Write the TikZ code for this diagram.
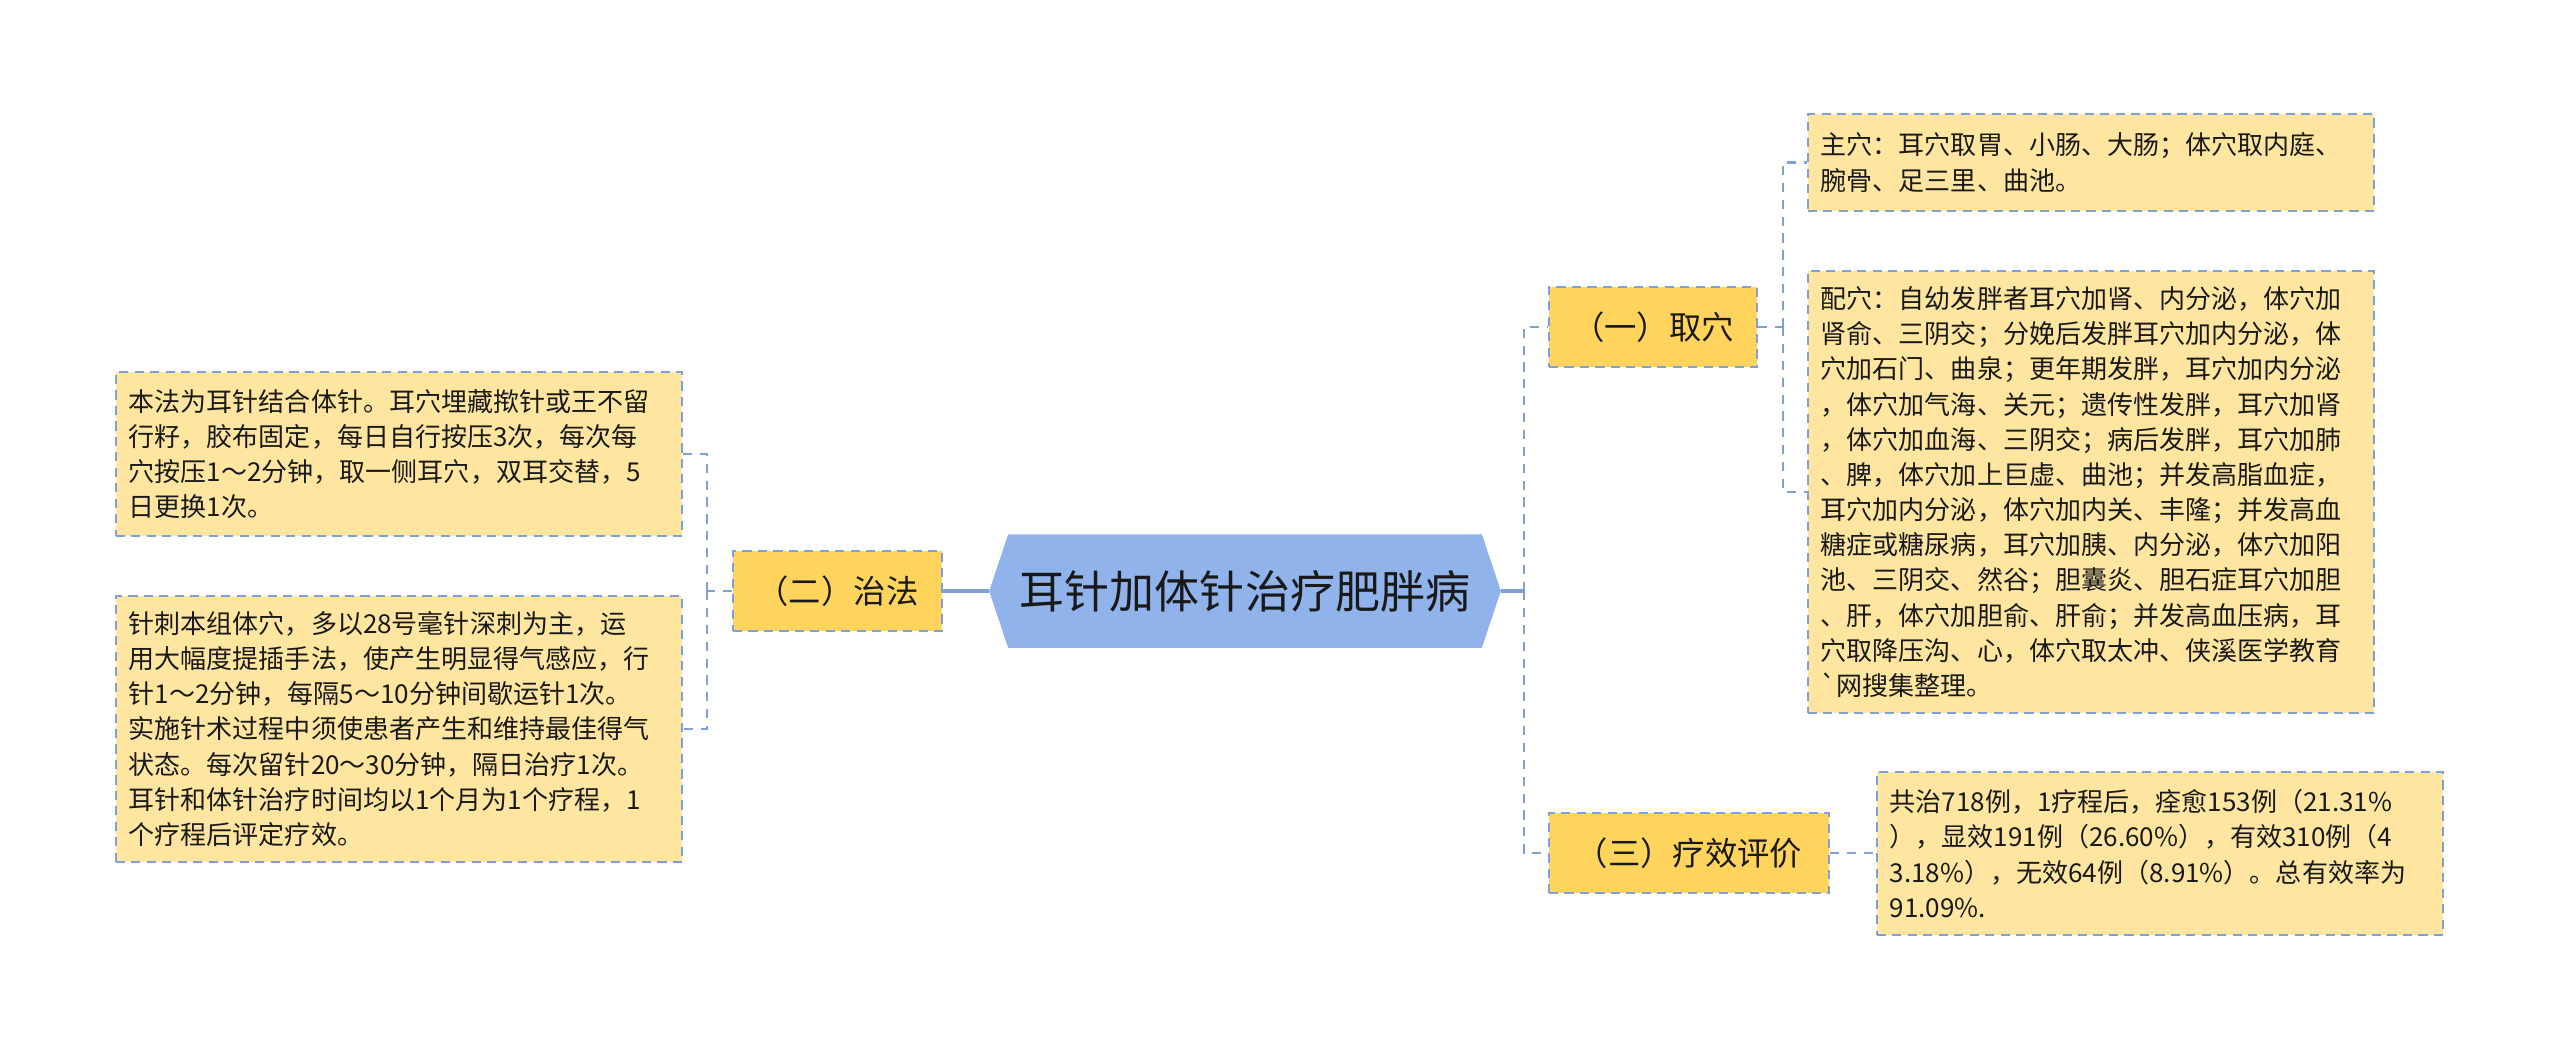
\documentclass[tikz,border=0pt]{standalone}
\usepackage{fontspec}
\setmainfont{Noto Sans CJK SC}
\usepackage{tikz}
\usetikzlibrary{calc,positioning,backgrounds}
\definecolor{cRoot}{RGB}{143,179,234}
\definecolor{cTopic}{RGB}{255,212,92}
\definecolor{cLeaf}{RGB}{255,230,160}
\definecolor{cLine}{RGB}{127,160,212}
\definecolor{cText}{RGB}{25,25,25}

\tikzset{
  topic/.style={draw=cLine,line width=0.7pt,dash pattern=on 2.6pt off 1.8pt,
    fill=cTopic,minimum height=0.8cm,inner sep=0pt,text=cText,
    font=\fontsize{9.2pt}{11pt}\selectfont},
  leaf/.style={draw=cLine,line width=0.7pt,dash pattern=on 2.6pt off 1.8pt,
    fill=cLeaf,text width=5.4cm,inner xsep=0.13cm,inner ysep=0pt,align=left,
    text=cText,font=\fontsize{7.4pt}{10pt}\selectfont},
  trunk/.style={cLine,line width=0.9pt},
  branch/.style={cLine,line width=0.8pt,dash pattern=on 2.6pt off 2.2pt},
}

\begin{document}
\begin{tikzpicture}[x=0.01cm,y=-0.01cm]
  \useasboundingbox (0,0) rectangle (2560,1053);
  \node[minimum width=5.1cm,minimum height=1.12cm,text=cText,
    font=\fontsize{12.8pt}{14pt}\selectfont] (root) at (1245,591) {耳针加体针治疗肥胖病};
  \begin{scope}[on background layer]
    \fill[cRoot] (root.west) -- ($(root.north west)+(19,0)$) -- ($(root.north east)+(-19,0)$)
      -- (root.east) -- ($(root.south east)+(-19,0)$) -- ($(root.south west)+(19,0)$) -- cycle;
  \end{scope}

  \node[topic,minimum width=2.09cm] (zhifa) at (837.5,591) {（二）治法};
  \node[topic,minimum width=2.08cm] (quxue) at (1653,327) {（一）取穴};
  \node[topic,minimum width=2.80cm] (liaoxiao) at (1689,853) {（三）疗效评价};

  \node[leaf,minimum height=1.64cm] (fa1) at (399,454) {本法为耳针结合体针。耳穴埋藏揿针或王不留\\
    行籽，胶布固定，每日自行按压3次，每次每\\
    穴按压1～2分钟，取一侧耳穴，双耳交替，5\\
    日更换1次。};
  \node[leaf,minimum height=2.66cm] (fa2) at (399,729) {针刺本组体穴，多以28号毫针深刺为主，运\\
    用大幅度提插手法，使产生明显得气感应，行\\
    针1～2分钟，每隔5～10分钟间歇运针1次。\\
    实施针术过程中须使患者产生和维持最佳得气\\
    状态。每次留针20～30分钟，隔日治疗1次。\\
    耳针和体针治疗时间均以1个月为1个疗程，1\\
    个疗程后评定疗效。};
  \node[leaf,minimum height=0.97cm] (zhuxue) at (2091,162.5) {主穴：耳穴取胃、小肠、大肠；体穴取内庭、\\
    腕骨、足三里、曲池。};
  \node[leaf,minimum height=4.42cm] (peixue) at (2091,492) {配穴：自幼发胖者耳穴加肾、内分泌，体穴加\\
    肾俞、三阴交；分娩后发胖耳穴加内分泌，体\\
    穴加石门、曲泉；更年期发胖，耳穴加内分泌\\
    ，体穴加气海、关元；遗传性发胖，耳穴加肾\\
    ，体穴加血海、三阴交；病后发胖，耳穴加肺\\
    、脾，体穴加上巨虚、曲池；并发高脂血症，\\
    耳穴加内分泌，体穴加内关、丰隆；并发高血\\
    糖症或糖尿病，耳穴加胰、内分泌，体穴加阳\\
    池、三阴交、然谷；胆囊炎、胆石症耳穴加胆\\
    、肝，体穴加胆俞、肝俞；并发高血压病，耳\\
    穴取降压沟、心，体穴取太冲、侠溪医学教育\\
    \textasciigrave 网搜集整理。};
  \node[leaf,minimum height=1.63cm] (pingjia) at (2160,853.5) {共治718例，1疗程后，痊愈153例（21.31\%\\
    ），显效191例（26.60\%），有效310例（4\\
    3.18\%），无效64例（8.91\%）。总有效率为\\
    91.09\%.};

  \coordinate (rj) at (1524,591);
  \coordinate (lj) at (707,591);
  \coordinate (qj) at (1783,327);
  \draw[trunk] (root.east) -- (rj);
  \draw[trunk] (root.west) -- (zhifa.east);
  \draw[branch] (rj) |- (quxue.west);
  \draw[branch] (rj) |- (liaoxiao.west);
  \draw[branch] (zhifa.west) -- (lj);
  \draw[branch] (lj) |- (fa1.east);
  \draw[branch] (lj) |- (fa2.east);
  \draw[branch] (quxue.east) -- (qj);
  \draw[branch] (qj) |- (zhuxue.west);
  \draw[branch] (qj) |- (peixue.west);
  \draw[branch] (liaoxiao.east) -- (liaoxiao.east -| pingjia.west);
\end{tikzpicture}
\end{document}
